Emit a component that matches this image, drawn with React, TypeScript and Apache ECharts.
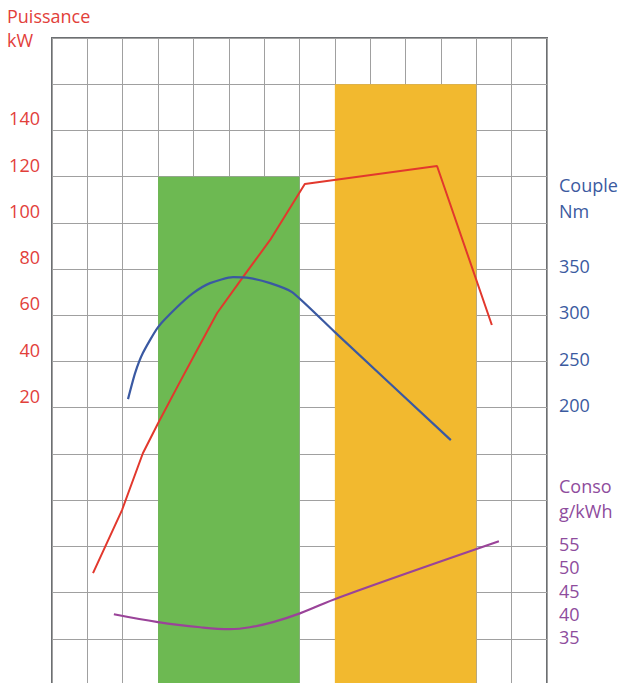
import React, { useEffect, useRef } from "react";
import * as echarts from "echarts";

// Power curve (kW) — x in grid columns
const powerPoints: [number, number][] = [
  [1.16, -51.6], [1.98, -24.3], [2.57, 0.3], [3.0, 13.3], [3.54, 28.9],
  [4.1, 44.9], [4.67, 61.0], [5.4, 76.5], [6.17, 92.6], [7.15, 116.8],
  [10.89, 124.6], [12.44, 55.8],
];
// Torque curve (Nm)
const torquePoints: [number, number][] = [
  [2.15, 209.3], [2.35, 237.4], [2.57, 259.1], [3.0, 287.2], [3.54, 308.9],
  [3.99, 324.0], [4.47, 334.8], [5.12, 341.3], [5.6, 340.2], [6.17, 334.8],
  [6.79, 325.1], [8.0, 281.8], [11.28, 164.9],
];
// Consumption curve (g/kWh)
const consoPoints: [number, number][] = [
  [1.75, 40.3], [3.0, 38.6], [4.19, 37.5], [5.03, 37.1], [5.6, 37.5],
  [6.25, 38.6], [7.01, 40.5], [8.14, 44.0], [12.64, 56.1],
];
// Shaded bands: [start column, end column, top (kW)]
const bands: [number, number, number][] = [
  [3, 7, 120],
  [8, 12, 160],
];
const bandColors = ["#6db952", "#f2b92f"];

const powerTicks = [20, 40, 60, 80, 100, 120, 140];
const torqueTicks = [200, 250, 300, 350];
const consoTicks = [35, 40, 45, 50, 55];

const RED = "#e2382d";
const BLUE = "#3a59a2";
const PURPLE = "#9a4399";
const RED_TXT = "#e2403a";
const BLUE_TXT = "#3b5aa0";
const PURPLE_TXT = "#8e4c9d";
const FONT = '"Open Sans", "Noto Sans", sans-serif';
const GRID_LINE = "#a0a0a0";

export default function App() {
  const ref = useRef<HTMLDivElement>(null);
  useEffect(() => {
    if (!ref.current) return;
    const chart = echarts.init(ref.current, undefined, { renderer: "svg" });
    const option: any = {
      animation: false,
      backgroundColor: "#ffffff",
      grid: {
        left: 52,
        top: 38,
        width: 495,
        height: 647,
        show: true,
        borderColor: "#6c6f72",
        borderWidth: 2,
        backgroundColor: "transparent",
        containLabel: false,
      },
      xAxis: {
        type: "value",
        min: 0,
        max: 14,
        interval: 1,
        axisLine: { show: false },
        axisTick: { show: false },
        axisLabel: { show: false },
        splitLine: { show: true, lineStyle: { color: GRID_LINE, width: 1 } },
      },
      yAxis: [
        {
          type: "value",
          position: "left",
          min: -100,
          max: 180,
          interval: 20,
          axisLine: { show: false },
          axisTick: { show: false },
          splitLine: { show: true, lineStyle: { color: GRID_LINE, width: 1 } },
          axisLabel: {
            margin: 12,
            color: RED_TXT,
            fontSize: 18,
            fontFamily: FONT,
            verticalAlign: "bottom",
            padding: [0, 0, 3, 0],
            formatter: (v: number) => (powerTicks.includes(v) ? String(v) : ""),
          },
        },
        {
          type: "value",
          position: "right",
          offset: 0,
          min: -100,
          max: 600,
          interval: 50,
          axisLine: { show: false },
          axisTick: { show: false },
          splitLine: { show: false },
          axisLabel: {
            margin: 12,
            color: BLUE_TXT,
            fontSize: 18,
            fontFamily: FONT,
            verticalAlign: "bottom",
            lineHeight: 6,
            formatter: (v: number) => (torqueTicks.includes(v) ? String(v) : ""),
          },
        },
        {
          type: "value",
          position: "right",
          offset: 0,
          min: 25,
          max: 165,
          interval: 5,
          axisLine: { show: false },
          axisTick: { show: false },
          splitLine: { show: false },
          axisLabel: {
            margin: 12,
            color: PURPLE_TXT,
            fontSize: 18,
            fontFamily: FONT,
            verticalAlign: "bottom",
            lineHeight: 4,
            formatter: (v: number) => (consoTicks.includes(v) ? String(v) : ""),
          },
        },
      ],
      graphic: [
        {
          type: "text",
          left: 7,
          top: 4,
          style: { text: "Puissance\nkW", fill: RED_TXT, font: `18px ${FONT}`, lineHeight: 24 },
        },
        {
          type: "text",
          left: 559,
          top: 172,
          style: { text: "Couple\nNm", fill: BLUE_TXT, font: `18px ${FONT}`, lineHeight: 26 },
        },
        {
          type: "text",
          left: 559,
          top: 473,
          style: { text: "Conso\ng/kWh", fill: PURPLE_TXT, font: `18px ${FONT}`, lineHeight: 25 },
        },
      ],
      series: [
        {
          type: "custom",
          xAxisIndex: 0,
          yAxisIndex: 0,
          z: 1,
          data: bands,
          encode: { x: [0, 1], y: 2 },
          renderItem: (params: any, api: any) => {
            const p0 = api.coord([api.value(0), api.value(2)]);
            const p1 = api.coord([api.value(1), -100]);
            return {
              type: "rect",
              shape: { x: p0[0], y: p0[1], width: p1[0] - p0[0], height: p1[1] - p0[1] },
              style: { fill: bandColors[params.dataIndex] },
            };
          },
        },
        {
          type: "line",
          yAxisIndex: 0,
          z: 3,
          data: powerPoints,
          showSymbol: false,
          smooth: false,
          lineStyle: { color: RED, width: 2 },
        },
        {
          type: "line",
          yAxisIndex: 1,
          z: 3,
          data: torquePoints,
          showSymbol: false,
          smooth: 0.2,
          lineStyle: { color: BLUE, width: 2.2 },
        },
        {
          type: "line",
          yAxisIndex: 2,
          z: 3,
          data: consoPoints,
          showSymbol: false,
          smooth: 0.4,
          lineStyle: { color: PURPLE, width: 2.2 },
        },
      ],
    };
    chart.setOption(option);
    return () => chart.dispose();
  }, []);
  return (
    <div
      ref={ref}
      style={{ position: "fixed", left: 0, top: 0, width: 622, height: 700 }}
    />
  );
}
